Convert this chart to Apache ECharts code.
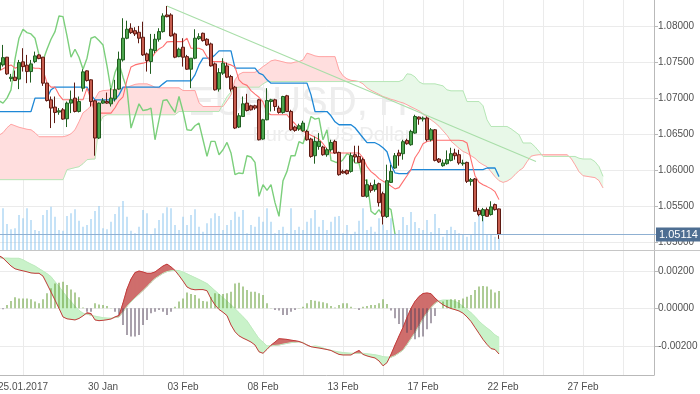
<!DOCTYPE html>
<html><head><meta charset="utf-8">
<script src="https://cdn.jsdelivr.net/npm/echarts@6.0.0/dist/echarts.min.js"></script>
<style>html,body{margin:0;padding:0;background:#fff}#c{width:700px;height:394px}</style>
</head><body><div id="c"></div>
<script>
// ---- data ----
const FIRST_X = 4;          // axis value of first candle
const CHIKOU_SHIFT = 26;
const X_MAX = 167.75;
const dateLabels = ['25.01.2017','30 Jan','03 Feb','08 Feb','13 Feb','17 Feb','22 Feb','27 Feb'];
const dateLabelAt = [10,30,50,70,90,110,130,150];

const opens = [1.07399,1.07468,1.07575,1.07278,1.07297,1.07270,1.07510,1.07464,1.07375,1.07514,1.07607,
1.07575,1.07214,1.06982,1.06881,1.06811,1.06843,1.06718,1.06936,1.07006,1.06820,
1.07144,1.07385,1.07260,1.06968,1.06450,1.06936,1.06958,1.06926,1.06996,1.07131,
1.07537,1.07839,1.07978,1.07944,1.07922,1.07853,1.07621,1.07514,1.07667,1.07825,
1.07931,1.08163,1.08163,1.07899,1.07583,1.07714,1.07583,1.07408,1.07561,1.07833,
1.07908,1.07825,1.07760,1.07482,1.07131,1.07353,1.07454,1.07306,1.07158,1.06603,
1.06750,1.06936,1.06899,1.06899,1.06982,1.06436,1.06704,1.06958,1.06982,1.06867,
1.06806,1.07038,1.06820,1.06603,1.06575,1.06551,1.06542,1.06436,1.06204,1.06333,
1.06325,1.06218,1.06287,1.06403,1.06250,1.05986,1.06000,1.05986,1.06218,1.06194,
1.06149,1.05639,1.05788,1.05732,1.05815,1.05676,1.05357,1.05833,1.06033,1.06242,
1.06232,1.06417,1.06357,1.06519,1.06742,1.06714,1.06728,1.06426,1.06565,1.06158,
1.06065,1.06093,1.06139,1.06242,1.06218,1.06093,1.06111,1.05847,1.05881,1.05444,
1.05371,1.05454,1.05385,1.05524,1.05464];
const closes = [1.07500,1.07569,1.07343,1.07297,1.07250,1.07500,1.07444,1.07375,1.07482,1.07593,1.07556,
1.07214,1.06972,1.06867,1.06806,1.06829,1.06714,1.06936,1.06982,1.06820,1.06958,
1.07371,1.07250,1.06958,1.06450,1.06936,1.06968,1.06936,1.07006,1.07121,1.07547,
1.07839,1.07964,1.07917,1.07899,1.07839,1.07607,1.07528,1.07686,1.07825,1.07931,
1.08149,1.08139,1.07871,1.07575,1.07686,1.07575,1.07408,1.07561,1.07839,1.07861,
1.07806,1.07746,1.07454,1.07121,1.07361,1.07492,1.07297,1.07131,1.06589,1.06760,
1.06926,1.06833,1.06843,1.06867,1.06426,1.06704,1.06972,1.06982,1.06889,1.06806,
1.07028,1.06820,1.06565,1.06556,1.06621,1.06658,1.06426,1.06194,1.06403,1.06403,
1.06218,1.06287,1.06389,1.06242,1.05940,1.05964,1.05954,1.06204,1.06186,1.06111,
1.05639,1.05801,1.05722,1.05801,1.05551,1.05361,1.05857,1.05986,1.06204,1.06204,
1.06399,1.06371,1.06542,1.06750,1.06714,1.06728,1.06426,1.06565,1.06139,1.06117,
1.06103,1.06149,1.06232,1.06204,1.06103,1.06103,1.05847,1.05871,1.05431,1.05385,
1.05454,1.05361,1.05492,1.05454,1.05114];
const lows = [1.07371,1.07444,1.07329,1.07236,1.07246,1.07131,1.07375,1.07214,1.07222,1.07492,1.07547,
1.07176,1.06958,1.06589,1.06658,1.06774,1.06704,1.06603,1.06797,1.06806,1.06806,
1.07097,1.07236,1.06889,1.06204,1.06436,1.06926,1.06926,1.06889,1.06958,1.07121,
1.07514,1.07825,1.07899,1.07871,1.07769,1.07593,1.07375,1.07343,1.07631,1.07792,
1.07917,1.08130,1.07861,1.07561,1.07575,1.07444,1.07399,1.07144,1.07547,1.07815,
1.07792,1.07732,1.07444,1.07111,1.07097,1.07329,1.07283,1.07097,1.06575,1.06589,
1.06742,1.06820,1.06833,1.06843,1.06417,1.06426,1.06697,1.06820,1.06829,1.06788,
1.06788,1.06815,1.06551,1.06537,1.06551,1.06537,1.06413,1.06176,1.06093,1.06287,
1.06204,1.06190,1.06260,1.06232,1.05926,1.05954,1.05940,1.05968,1.06107,1.06107,
1.05635,1.05621,1.05690,1.05704,1.05496,1.05246,1.05339,1.05825,1.06024,1.06065,
1.06149,1.06357,1.06343,1.06510,1.06635,1.06681,1.06403,1.06403,1.06125,1.06103,
1.06051,1.06079,1.06125,1.06149,1.06079,1.06065,1.05825,1.05788,1.05426,1.05361,
1.05292,1.05357,1.05371,1.05440,1.05047];
const highs = [1.07537,1.07746,1.07579,1.07343,1.07389,1.07537,1.07700,1.07607,1.07537,1.07653,1.07617,
1.07579,1.07222,1.07028,1.07028,1.06867,1.06867,1.06958,1.07111,1.07222,1.07028,
1.07408,1.07392,1.07267,1.06982,1.06944,1.07006,1.07083,1.07144,1.07260,1.07653,
1.08117,1.08083,1.08047,1.07992,1.08010,1.08069,1.07639,1.07899,1.07899,1.07978,
1.08186,1.08288,1.08186,1.07917,1.07708,1.07839,1.07607,1.07561,1.07964,1.07908,
1.07917,1.07839,1.07778,1.07500,1.07422,1.07561,1.07500,1.07329,1.07176,1.06797,
1.07028,1.07065,1.06913,1.06913,1.06996,1.06718,1.07144,1.06996,1.06996,1.06899,
1.07038,1.07051,1.06843,1.06621,1.06649,1.06690,1.06565,1.06454,1.06472,1.06519,
1.06343,1.06315,1.06426,1.06426,1.06260,1.06010,1.06010,1.06246,1.06343,1.06343,
1.06176,1.05871,1.05829,1.05871,1.05829,1.05704,1.06079,1.06079,1.06242,1.06287,
1.06426,1.06440,1.06565,1.06774,1.06750,1.06750,1.06750,1.06589,1.06575,1.06172,
1.06149,1.06278,1.06315,1.06301,1.06287,1.06149,1.06121,1.05894,1.05894,1.05478,
1.05478,1.05483,1.05570,1.05538,1.05468];
const volumes = [1500,2085,1300,1035,1085,1750,1585,2085,1500,1000,950,
1750,2000,2165,1665,1000,965,1700,1835,2035,1465,
1165,1250,1550,1950,2200,1085,1035,1415,1800,2165,
2450,1665,965,835,1165,2000,1835,750,1085,1500,
1835,2135,2085,1250,1000,1665,1250,1750,2035,1165,
915,1335,1585,1835,1700,1000,1250,1500,1915,1665,
2000,835,1250,1165,1665,1415,2085,1415,835,1000,
1165,835,2085,1000,1165,1000,1415,1585,2000,1165,
1500,1000,1415,1665,1700,835,1250,750,915,1465,
2085,1000,1165,915,1585,1250,1000,1585,835,1000,
1650,1250,1900,1400,1100,1000,1500,900,1800,1100,
665,1000,1165,1000,835,750,665,750,1400,1835,
1665,750,750,665,585];
const tenkan = [1.07385,1.07413,1.07444,1.07468,1.07422,1.07444,1.07450,1.07454,1.07433,1.07422,
1.07422,1.07399,1.07218,1.07158,1.07158,1.07051,1.06982,1.06982,1.06982,1.06982,
1.06982,1.06982,1.07144,1.06982,1.06797,1.06797,1.06797,1.06797,1.06797,1.06871,
1.06968,1.07024,1.07260,1.07440,1.07468,1.07482,1.07492,1.07510,1.07551,1.07635,
1.07690,1.07722,1.07788,1.07792,1.07792,1.07792,1.07792,1.07839,1.07700,1.07700,
1.07700,1.07676,1.07579,1.07514,1.07514,1.07514,1.07514,1.07482,1.07468,1.07440,
1.07260,1.07204,1.07183,1.07110,1.07061,1.07017,1.06954,1.06801,1.06774,1.06774,
1.06774,1.06774,1.06774,1.06704,1.06649,1.06579,1.06544,1.06519,1.06489,1.06461,
1.06433,1.06371,1.06297,1.06242,1.06242,1.06242,1.06242,1.06242,1.06242,1.06242,
1.06242,1.06176,1.06051,1.05982,1.05940,1.05885,1.05850,1.05825,1.05781,1.05742,
1.05760,1.05843,1.05926,1.06010,1.06176,1.06260,1.06371,1.06403,1.06413,1.06419,
1.06419,1.06419,1.06419,1.06419,1.06419,1.06419,1.06413,1.06381,1.06149,1.05926,
1.05836,1.05801,1.05774,1.05746,1.05704,1.05593];
const kijun = [1.06819,1.06819,1.06819,1.06819,1.06819,1.06819,1.06819,1.06819,1.06819,1.07006,
1.07006,1.07006,1.07006,1.07121,1.07158,1.07158,1.07158,1.07158,1.07158,1.07158,
1.07158,1.07158,1.07158,1.07051,1.06982,1.06982,1.06982,1.06982,1.06982,1.06982,
1.07051,1.07158,1.07158,1.07158,1.07158,1.07158,1.07158,1.07158,1.07158,1.07158,
1.07158,1.07204,1.07246,1.07246,1.07246,1.07246,1.07246,1.07246,1.07246,1.07329,
1.07468,1.07561,1.07561,1.07561,1.07607,1.07663,1.07663,1.07663,1.07663,1.07422,
1.07422,1.07422,1.07422,1.07422,1.07422,1.07353,1.07329,1.07260,1.07214,1.07214,
1.07214,1.07214,1.07214,1.07214,1.07214,1.07214,1.07214,1.07214,1.07051,1.06819,
1.06819,1.06819,1.06819,1.06760,1.06676,1.06635,1.06635,1.06635,1.06635,1.06593,
1.06524,1.06454,1.06385,1.06385,1.06385,1.06357,1.06315,1.06260,1.06079,1.05964,
1.05954,1.05954,1.05954,1.06010,1.06010,1.06010,1.06010,1.06010,1.06010,1.06010,
1.06010,1.06010,1.06010,1.06010,1.06010,1.06010,1.06010,1.06010,1.06010,1.06010,
1.06010,1.06010,1.06033,1.06033,1.06033,1.05913];
const spanA = [1.05871,1.05871,1.05871,1.05871,1.05871,1.05871,1.05871,1.05871,1.05871,1.05871,
1.05871,1.05871,1.05871,1.05871,1.05871,1.05871,1.05871,1.06010,1.06024,1.06038,
1.06051,1.06093,1.06149,1.06156,1.06158,1.06635,1.06746,1.06774,1.06774,1.06774,
1.06774,1.06774,1.06774,1.06774,1.06774,1.06774,1.06774,1.06774,1.06774,1.06774,
1.06774,1.06774,1.06774,1.06774,1.06774,1.06819,1.06819,1.06819,1.06819,1.06819,
1.06819,1.06819,1.06819,1.06819,1.06819,1.06819,1.06926,1.07024,1.07093,1.07149,
1.07158,1.07158,1.07158,1.07158,1.07158,1.07158,1.07204,1.07236,1.07236,1.07236,
1.07236,1.07236,1.07236,1.07236,1.07236,1.07236,1.07236,1.07236,1.07236,1.07236,
1.07236,1.07236,1.07236,1.07236,1.07236,1.07236,1.07236,1.07236,1.07236,1.07236,
1.07236,1.07236,1.07236,1.07236,1.07236,1.07236,1.07236,1.07236,1.07236,1.07236,
1.07236,1.07260,1.07343,1.07336,1.07301,1.07232,1.07204,1.07204,1.07204,1.07204,
1.07190,1.07176,1.07121,1.07107,1.07107,1.07107,1.07107,1.06958,1.06958,1.06958,
1.06958,1.06899,1.06704,1.06611,1.06611,1.06611,1.06611,1.06611,1.06579,1.06538,
1.06496,1.06381,1.06381,1.06381,1.06329,1.06264,1.06194,1.06194,1.06194,1.06194,
1.06194,1.06194,1.06194,1.06194,1.06194,1.06169,1.06158,1.06158,1.06158,1.06121,
1.06051,1.05917];
const spanB = [1.06489,1.06524,1.06593,1.06642,1.06621,1.06600,1.06586,1.06572,1.06565,1.06524,
1.06468,1.06468,1.06468,1.06468,1.06468,1.06468,1.06468,1.06482,1.06510,1.06565,
1.06676,1.06801,1.06843,1.06899,1.06996,1.07093,1.07110,1.07114,1.07121,1.07128,
1.07135,1.07144,1.07158,1.07176,1.07197,1.07204,1.07204,1.07204,1.07183,1.07156,
1.07149,1.07149,1.07149,1.07149,1.07149,1.07149,1.07111,1.07111,1.07111,1.07111,
1.06940,1.06889,1.06889,1.06889,1.06889,1.06889,1.06889,1.06968,1.07051,1.07260,
1.07336,1.07364,1.07364,1.07364,1.07364,1.07399,1.07444,1.07482,1.07524,1.07537,
1.07524,1.07510,1.07496,1.07492,1.07506,1.07514,1.07537,1.07631,1.07614,1.07593,
1.07583,1.07583,1.07583,1.07583,1.07583,1.07399,1.07315,1.07274,1.07253,1.07246,
1.07236,1.07204,1.07149,1.07114,1.07086,1.07058,1.07028,1.07010,1.06989,1.06975,
1.06954,1.06940,1.06913,1.06885,1.06857,1.06829,1.06788,1.06739,1.06704,1.06663,
1.06614,1.06551,1.06489,1.06406,1.06357,1.06308,1.06264,1.06239,1.06204,1.06169,
1.06114,1.06079,1.06051,1.05982,1.05913,1.05857,1.05833,1.05850,1.05885,1.05940,
1.05996,1.06033,1.06121,1.06197,1.06211,1.06218,1.06218,1.06218,1.06218,1.06218,
1.06218,1.06218,1.06218,1.06169,1.06079,1.05982,1.05926,1.05917,1.05908,1.05899,
1.05857,1.05756];
const macd = [0.00282,0.00268,0.00247,0.00226,0.00211,0.00205,0.00200,0.00195,0.00189,0.00187,
0.00187,0.00172,0.00130,0.00087,0.00044,0.00000,-0.00046,-0.00056,-0.00059,-0.00062,
-0.00054,-0.00040,-0.00024,-0.00028,-0.00062,-0.00066,-0.00064,-0.00061,-0.00057,-0.00046,
-0.00038,0.00028,0.00103,0.00156,0.00191,0.00199,0.00194,0.00187,0.00187,0.00194,
0.00210,0.00226,0.00236,0.00221,0.00202,0.00175,0.00146,0.00114,0.00103,0.00099,
0.00100,0.00100,0.00094,0.00051,0.00018,-0.00006,-0.00021,-0.00039,-0.00089,-0.00125,
-0.00147,-0.00159,-0.00169,-0.00180,-0.00196,-0.00232,-0.00240,-0.00219,-0.00197,-0.00180,
-0.00162,-0.00164,-0.00166,-0.00170,-0.00173,-0.00177,-0.00185,-0.00196,-0.00205,-0.00209,
-0.00212,-0.00216,-0.00220,-0.00225,-0.00236,-0.00246,-0.00249,-0.00249,-0.00249,-0.00236,
-0.00225,-0.00246,-0.00254,-0.00260,-0.00265,-0.00281,-0.00307,-0.00290,-0.00246,-0.00196,
-0.00148,-0.00102,-0.00049,0.00000,0.00037,0.00063,0.00079,0.00082,0.00078,0.00055,
0.00035,0.00019,0.00008,-0.00001,-0.00007,-0.00014,-0.00026,-0.00046,-0.00070,-0.00102,
-0.00134,-0.00166,-0.00193,-0.00215,-0.00220,-0.00244];
const signal = [0.00271,0.00268,0.00268,0.00267,0.00267,0.00267,0.00259,0.00247,0.00236,0.00226,
0.00212,0.00199,0.00185,0.00169,0.00142,0.00117,0.00088,0.00060,0.00036,0.00011,
-0.00011,-0.00026,-0.00031,-0.00037,-0.00042,-0.00046,-0.00050,-0.00052,-0.00053,-0.00049,
-0.00046,-0.00020,0.00011,0.00034,0.00055,0.00075,0.00095,0.00116,0.00139,0.00159,
0.00173,0.00187,0.00196,0.00201,0.00203,0.00201,0.00194,0.00184,0.00174,0.00164,
0.00154,0.00143,0.00132,0.00114,0.00094,0.00076,0.00057,0.00038,0.00019,-0.00002,
-0.00023,-0.00045,-0.00067,-0.00099,-0.00131,-0.00162,-0.00180,-0.00201,-0.00200,-0.00198,
-0.00196,-0.00191,-0.00187,-0.00183,-0.00181,-0.00179,-0.00182,-0.00196,-0.00205,-0.00201,
-0.00204,-0.00212,-0.00219,-0.00225,-0.00229,-0.00233,-0.00236,-0.00238,-0.00240,-0.00240,
-0.00240,-0.00240,-0.00243,-0.00245,-0.00248,-0.00252,-0.00258,-0.00260,-0.00261,-0.00252,
-0.00238,-0.00223,-0.00193,-0.00161,-0.00130,-0.00093,-0.00055,-0.00024,0.00005,0.00026,
0.00040,0.00044,0.00044,0.00043,0.00037,0.00027,0.00010,-0.00006,-0.00023,-0.00044,
-0.00068,-0.00088,-0.00105,-0.00121,-0.00142,-0.00155];
const osma = [-0.00005,-0.00005,0.00018,0.00039,0.00059,0.00053,0.00053,0.00053,0.00048,0.00036,
0.00027,0.00048,0.00080,0.00107,0.00133,0.00137,0.00142,0.00124,0.00101,0.00084,
0.00059,0.00005,-0.00018,-0.00018,0.00027,0.00021,0.00018,0.00012,0.00002,-0.00018,
-0.00036,-0.00089,-0.00142,-0.00151,-0.00151,-0.00142,-0.00089,-0.00062,-0.00027,-0.00018,
-0.00009,-0.00018,-0.00036,-0.00018,0.00009,0.00036,0.00053,0.00084,0.00076,0.00071,
0.00053,0.00039,0.00036,0.00059,0.00080,0.00076,0.00076,0.00080,0.00089,0.00133,
0.00137,0.00116,0.00098,0.00089,0.00089,0.00080,0.00071,0.00027,0.00002,-0.00009,
-0.00012,-0.00036,-0.00036,-0.00018,-0.00009,0.00002,0.00009,0.00027,0.00044,0.00041,
0.00036,0.00032,0.00027,0.00012,0.00005,0.00018,0.00027,0.00027,0.00009,0.00002,
-0.00009,0.00009,0.00012,0.00018,0.00018,0.00027,0.00048,0.00023,-0.00012,-0.00053,
-0.00084,-0.00101,-0.00130,-0.00116,-0.00165,-0.00155,-0.00151,-0.00112,-0.00080,-0.00041,
0.00000,0.00036,0.00044,0.00048,0.00048,0.00044,0.00053,0.00062,0.00071,0.00098,
0.00116,0.00119,0.00116,0.00101,0.00084,0.00092];
const trendX = [46, 138.25];
const trendY = [1.08288, 1.06125];
const priceTicks = {min: 1.04892, max: 1.08371, split: 7};
const macdTicks = {min: -0.00356, max: 0.00306, split: 3};

// ---- chart ----
const lastPrice = closes[closes.length - 1];
const xOf = i => FIRST_X + i;
const pairs = arr => arr.map((v, i) => [xOf(i), v]);
const FONT = '"Liberation Sans", Arial, sans-serif';

function band(xi, yi, upper, lower, colUp, colDown, z) {
  return {
    type: 'custom', xAxisIndex: xi, yAxisIndex: yi, z: z, silent: true, clip: true,
    data: pairs(upper), encode: {x: 0, y: 1},
    renderItem: function (params, api) {
      const i = params.dataIndex;
      if (i >= upper.length - 1) return null;
      const x0 = xOf(i), x1 = x0 + 1;
      const a0 = upper[i], a1 = upper[i + 1], b0 = lower[i], b1 = lower[i + 1];
      const d0 = a0 - b0, d1 = a1 - b1;
      const poly = (pts, col) => ({type: 'polygon', silent: true,
        shape: {points: pts.map(p => api.coord(p))},
        style: {fill: col, stroke: col, lineWidth: 0.5}});
      if (d0 * d1 >= 0) {
        return poly([[x0, a0], [x1, a1], [x1, b1], [x0, b0]], (d0 + d1) >= 0 ? colUp : colDown);
      }
      const t = d0 / (d0 - d1);
      const xc = x0 + t, yc = a0 + t * (a1 - a0);
      return {type: 'group', children: [
        poly([[x0, a0], [xc, yc], [x0, b0]], d0 > 0 ? colUp : colDown),
        poly([[xc, yc], [x1, a1], [x1, b1]], d1 > 0 ? colUp : colDown)]};
    }
  };
}
function line(xi, yi, data, color, width, z) {
  return {type: 'line', xAxisIndex: xi, yAxisIndex: yi, data: data, z: z, silent: true,
    showSymbol: false, symbol: 'none', smooth: false, clip: true,
    lineStyle: {color: color, width: width}};
}
const priceLine = {
  type: 'custom', xAxisIndex: 0, yAxisIndex: 0, z: 6, silent: true, clip: false,
  data: [[X_MAX, lastPrice]], encode: {x: 0, y: 1},
  renderItem: function (params, api) {
    const a = api.coord([0, lastPrice]);
    const b = api.coord([X_MAX, lastPrice]);
    const y = Math.round(a[1]) + 0.5;
    return {type: 'group', children: [
      {type: 'line', silent: true, shape: {x1: a[0], y1: y, x2: b[0] + 2, y2: y},
       style: {stroke: '#8fb0d2', lineWidth: 1}},
      {type: 'text', silent: true, x: b[0] + 2, y: y,
       style: {text: lastPrice.toFixed(5), fill: '#ffffff', backgroundColor: '#4e6e92',
         padding: [2, 3, 1, 3], font: '11px ' + FONT, align: 'left', verticalAlign: 'middle'}}
    ]};
  }
};

const gridLine = {show: true, lineStyle: {color: '#ebebeb', width: 1}};
const axisCol = '#b9b9b9';

const chart = echarts.init(document.getElementById('c'), null, {renderer: 'canvas'});
chart.setOption({
  animation: false,
  backgroundColor: '#ffffff',
  textStyle: {fontFamily: FONT},
  grid: [
    {left: -17, right: 46, top: 0, height: 250, containLabel: false, outerBoundsMode: 'none'},
    {left: -17, right: 46, top: 251, height: 124, containLabel: false, outerBoundsMode: 'none'}
  ],
  xAxis: [
    {gridIndex: 0, type: 'value', min: 0, max: X_MAX, interval: 10,
     axisLine: {show: false, onZero: false}, axisTick: {show: false}, axisLabel: {show: false},
     splitLine: gridLine},
    {gridIndex: 1, type: 'value', min: 0, max: X_MAX, interval: 10, position: 'bottom',
     axisLine: {show: true, onZero: false, lineStyle: {color: axisCol}}, axisTick: {show: false},
     axisLabel: {show: true, color: '#505050', fontSize: 10, fontFamily: FONT, margin: 7,
       showMinLabel: false, showMaxLabel: false,
       formatter: v => { const k = dateLabelAt.indexOf(Math.round(v)); return k >= 0 ? dateLabels[k] : ''; }},
     splitLine: gridLine}
  ],
  yAxis: [
    {gridIndex: 0, type: 'value', position: 'right', min: priceTicks.min, max: priceTicks.max,
     splitNumber: priceTicks.split,
     axisLine: {show: true, onZero: false, lineStyle: {color: axisCol}},
     axisTick: {show: true, length: 4, lineStyle: {color: axisCol}},
     axisLabel: {color: '#505050', fontSize: 10, fontFamily: FONT, margin: 4,
       showMinLabel: false, showMaxLabel: false, formatter: v => v.toFixed(5)},
     splitLine: {show: true, showMinLine: false, showMaxLine: false, lineStyle: {color: '#ebebeb'}}},
    {gridIndex: 0, type: 'value', position: 'left', min: 0, max: 12500, show: false,
     axisLine: {onZero: false}, splitLine: {show: false}},
    {gridIndex: 1, type: 'value', position: 'right', min: macdTicks.min, max: macdTicks.max,
     splitNumber: macdTicks.split,
     axisLine: {show: true, onZero: false, lineStyle: {color: axisCol}},
     axisTick: {show: true, length: 4, lineStyle: {color: axisCol}},
     axisLabel: {color: '#505050', fontSize: 10, fontFamily: FONT, margin: 4,
       showMinLabel: false, showMaxLabel: false, formatter: v => v.toFixed(5)},
     splitLine: {show: true, showMinLine: false, showMaxLine: false, lineStyle: {color: '#ebebeb'}}}
  ],
  graphic: [
    {type: 'text', z: 1, silent: true, x: 430, y: 104,
     style: {text: 'EURUSD, H4', fill: '#ededed', font: '40px ' + FONT,
       align: 'right', verticalAlign: 'middle', textAlign: 'right', textVerticalAlign: 'middle'}},
    {type: 'text', z: 1, silent: true, x: 332, y: 135,
     style: {text: 'Euro vs US Dollar', fill: '#ededed', font: '20px ' + FONT,
       align: 'center', verticalAlign: 'middle', textAlign: 'center', textVerticalAlign: 'middle'}},
    {type: 'line', z: 50, silent: true, shape: {x1: 0, y1: 250.5, x2: 700, y2: 250.5},
     style: {stroke: '#c6c6c6', lineWidth: 1}}
  ],
  series: [
    band(0, 0, spanB, spanA, '#ffdede', '#e8f8e8', 1),
    line(0, 0, pairs(spanB), '#ffa4a4', 1, 2),
    line(0, 0, pairs(spanA), '#b6e6b6', 1, 2),
    {type: 'bar', xAxisIndex: 0, yAxisIndex: 1, z: 2, silent: true, barWidth: 1,
     data: pairs(volumes), itemStyle: {color: '#8cc6ef'}},
    line(0, 0, closes.map((c, i) => [xOf(i) - CHIKOU_SHIFT, c]), '#7ccf7c', 1.4, 3),
    line(0, 0, pairs(kijun), '#1f88d6', 1.3, 3),
    line(0, 0, pairs(tenkan), '#ff6f6f', 1.1, 3),
    line(0, 0, trendX.map((x, i) => [x, trendY[i]]), '#a8dea8', 1.1, 3),
    priceLine,
    {type: 'candlestick', xAxisIndex: 0, yAxisIndex: 0, z: 5, silent: true, barWidth: 3,
     data: opens.map((o, i) => [xOf(i), o, closes[i], lows[i], highs[i]]),
     encode: {x: 0, y: [1, 2, 3, 4]},
     itemStyle: {color: '#4ea64e', color0: '#c65d4e', borderColor: '#1f5e1f', borderColor0: '#5e1a12', borderWidth: 1}},
    band(1, 2, macd, signal, '#cf6e6c', '#c9f2c9', 1),
    line(1, 2, pairs(signal), '#bfeabf', 1, 2),
    {type: 'bar', xAxisIndex: 1, yAxisIndex: 2, z: 3, silent: true, barWidth: 1,
     data: pairs(osma),
     itemStyle: {color: p => (p.value[1] >= 0 ? '#5f9a2f' : '#54445a')}},
    line(1, 2, pairs(macd), '#c23b3b', 1, 4)
  ]
});
</script></body></html>
